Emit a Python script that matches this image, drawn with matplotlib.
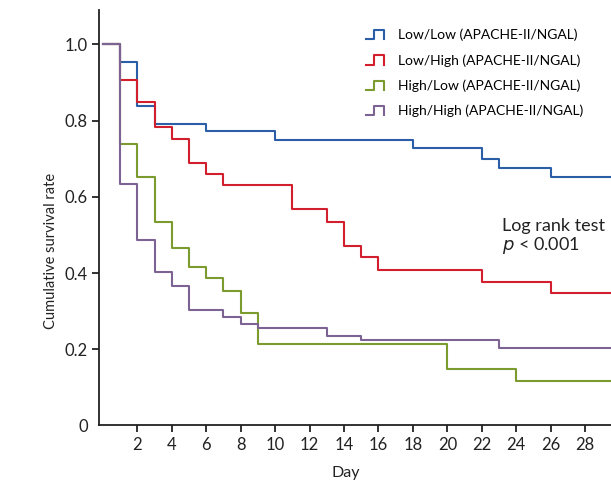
import matplotlib
matplotlib.use("Agg")
import matplotlib.pyplot as plt
from matplotlib.legend_handler import HandlerBase
from matplotlib.lines import Line2D

# step times (day) and survival after each step
low_low_days = [0, 1, 2, 3, 6, 10, 18, 22, 23, 26, 30]
low_low_surv = [1.0, 0.955, 0.839, 0.790, 0.773, 0.748, 0.727, 0.700, 0.677, 0.653, 0.653]

low_high_days = [0, 1, 2, 3, 4, 5, 6, 7, 11, 13, 14, 15, 16, 22, 26, 30]
low_high_surv = [1.0, 0.907, 0.848, 0.783, 0.753, 0.690, 0.660, 0.630, 0.567, 0.534,
                 0.471, 0.441, 0.408, 0.377, 0.348, 0.348]

high_low_days = [0, 1, 2, 3, 4, 5, 6, 7, 8, 9, 20, 24, 30]
high_low_surv = [1.0, 0.738, 0.652, 0.535, 0.467, 0.416, 0.387, 0.354, 0.296, 0.213,
                 0.149, 0.117, 0.117]

high_high_days = [0, 1, 2, 3, 4, 5, 7, 8, 9, 13, 15, 23, 30]
high_high_surv = [1.0, 0.633, 0.488, 0.403, 0.367, 0.303, 0.285, 0.266, 0.256, 0.236,
                  0.223, 0.203, 0.203]

labels = ["Low/Low (APACHE-II/NGAL)", "Low/High (APACHE-II/NGAL)",
          "High/Low (APACHE-II/NGAL)", "High/High (APACHE-II/NGAL)"]
colors = ["#2c5ea8", "#d21f2e", "#7b9b2f", "#7c6393"]

x_ticks = [2, 4, 6, 8, 10, 12, 14, 16, 18, 20, 22, 24, 26, 28]
y_ticks = [0, 0.2, 0.4, 0.6, 0.8, 1.0]
y_ticklabels = ["0", "0.2", "0.4", "0.6", "0.8", "1.0"]


class StepHandler(HandlerBase):
    # draws the little "_|‾|" step symbol used in the legend
    def create_artists(self, legend, orig_handle, xdescent, ydescent,
                       width, height, fontsize, trans):
        x0 = -xdescent
        y0 = -ydescent
        xs = [x0, x0 + 0.42 * width, x0 + 0.42 * width, x0 + width, x0 + width]
        ys = [y0 + 0.0 * height, y0 + 0.0 * height, y0 + 0.95 * height,
              y0 + 0.95 * height, y0 + 0.0 * height]
        ln = Line2D(xs, ys, color=orig_handle.get_color(), lw=1.5, transform=trans)
        return [ln]


plt.rcParams['font.family'] = ['Lato', 'DejaVu Sans']

fig = plt.figure(figsize=(6.11, 4.84), dpi=100)
ax = fig.add_axes([0.162, 0.121, 0.838, 0.858])

groups = [(low_low_days, low_low_surv), (low_high_days, low_high_surv),
          (high_low_days, high_low_surv), (high_high_days, high_high_surv)]
handles = []
for (d, s), c, lab in zip(groups, colors, labels):
    h, = ax.step(d, s, where="post", color=c, lw=1.5, label=lab)
    handles.append(h)

ax.set_xlim(-0.23, 29.5)
ax.set_ylim(0, 1.09)
ax.set_xticks(x_ticks)
ax.set_yticks(y_ticks)
ax.set_yticklabels(y_ticklabels)
ax.yaxis.get_major_ticks()[0].tick1line.set_visible(False)

for side in ["top", "right"]:
    ax.spines[side].set_visible(False)
for side in ["left", "bottom"]:
    ax.spines[side].set_linewidth(1.3)
    ax.spines[side].set_color("#222222")
ax.tick_params(direction="out", length=5, width=1.3, color="#222222",
               labelsize=12, labelcolor="#222222", pad=3)

ax.set_xlabel("Day", fontsize=11.5, color="#222222")
ax.set_ylabel("Cumulative survival rate", fontsize=10.5, color="#222222")
ax.xaxis.set_label_coords(0.482, -0.097)
ax.yaxis.set_label_coords(-0.08, 0.42)

ax.legend(handles, labels, handler_map={Line2D: StepHandler()},
          loc="upper left", bbox_to_anchor=(0.521, 0.955), frameon=False,
          borderpad=0, borderaxespad=0,
          fontsize=10.0, handlelength=1.35, handletextpad=0.95, labelspacing=0.92)

ax.text(0.787, 0.50, "Log rank test\n$\\it{p}$ < 0.001", transform=ax.transAxes,
        fontsize=13, color="#222222", va="top", linespacing=1.1)

fig.savefig("out.png", dpi=100)
